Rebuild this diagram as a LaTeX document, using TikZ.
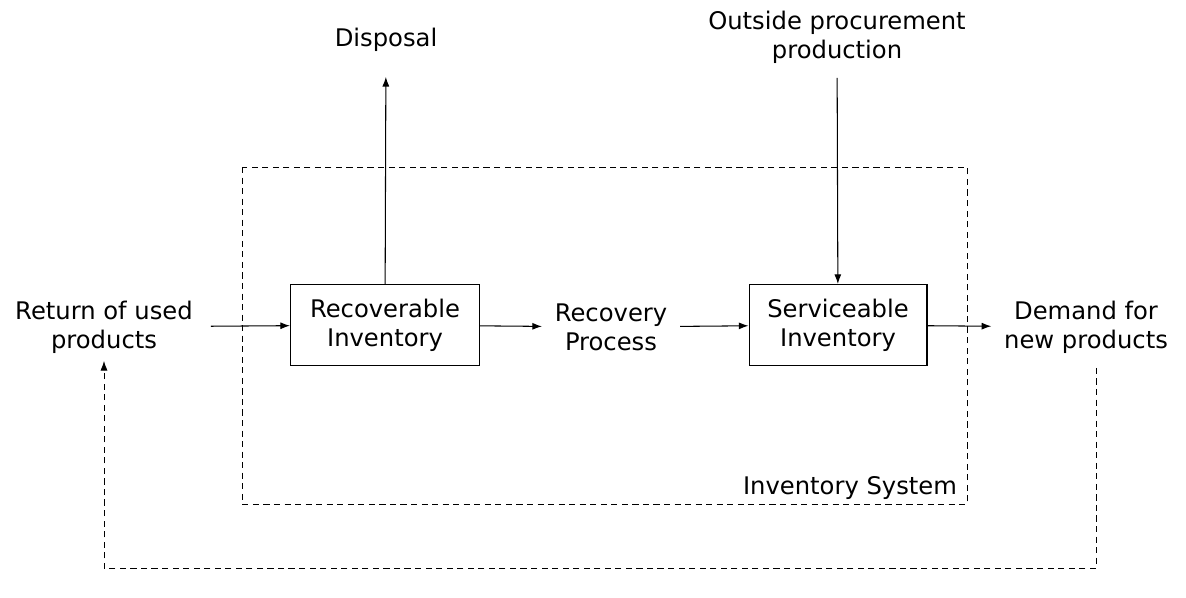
\documentclass[tikz,border=0pt]{standalone}
\usepackage{fontspec}
\setmainfont{DejaVu Sans}
\usetikzlibrary{arrows.meta}

\begin{document}
\begin{tikzpicture}[x=0.02cm,y=-0.02cm,
		font=\fontsize{13.8}{16.6}\selectfont, line width=0.6pt,
		txt/.style={align=center, inner xsep=7pt, inner ysep=2pt},
		inv/.style={draw, align=center, minimum height=1.62cm},
		dsh/.style={dash pattern=on 3.5pt off 2.5pt, line width=0.5pt}]
		\useasboundingbox (0,0) rectangle (1186,598);

		% inventory system
		\draw[dsh] (242,167) rectangle (967,504);
		\node[anchor=east, inner sep=2pt] at (961,488)(sys){Inventory System};

		\node[inv, minimum width=3.78cm] at (385,325)(rec){Recoverable\\Inventory};
		\node[inv, minimum width=3.56cm] at (838,325)(ser){Serviceable\\Inventory};

		\node[txt, inner xsep=10pt] at (104,327)(ret){Return of used\\products};
		\node[txt] at (611,327)(pro){Recovery\\Process};
		\node[txt] at (1086,327)(dem){Demand for\\new products};
		\node[txt] at (386,40)(dis){Disposal};
		\node[txt] at (837,37)(out){Outside procurement\\production};

		\path[-{Latex[length=5.5pt,width=4pt]}] (ret) edge (rec)(rec) edge (pro)(pro) edge (ser)(ser) edge (dem);
		\path[-{Latex[length=5.5pt,width=4pt]}] (rec) edge[shorten >=12pt] (dis)(out) edge[shorten <=6pt] (ser);

		% return flow
		\coordinate (c1) at (1096,568);
		\coordinate (c2) at (104,568);
		\draw[dsh, -{Latex[length=5.5pt,width=4pt]}, shorten <=6pt, shorten >=2pt]
			(dem.south -| c1) -- (c1) -- (c2) -- (ret.south);
	\end{tikzpicture}
\end{document}
